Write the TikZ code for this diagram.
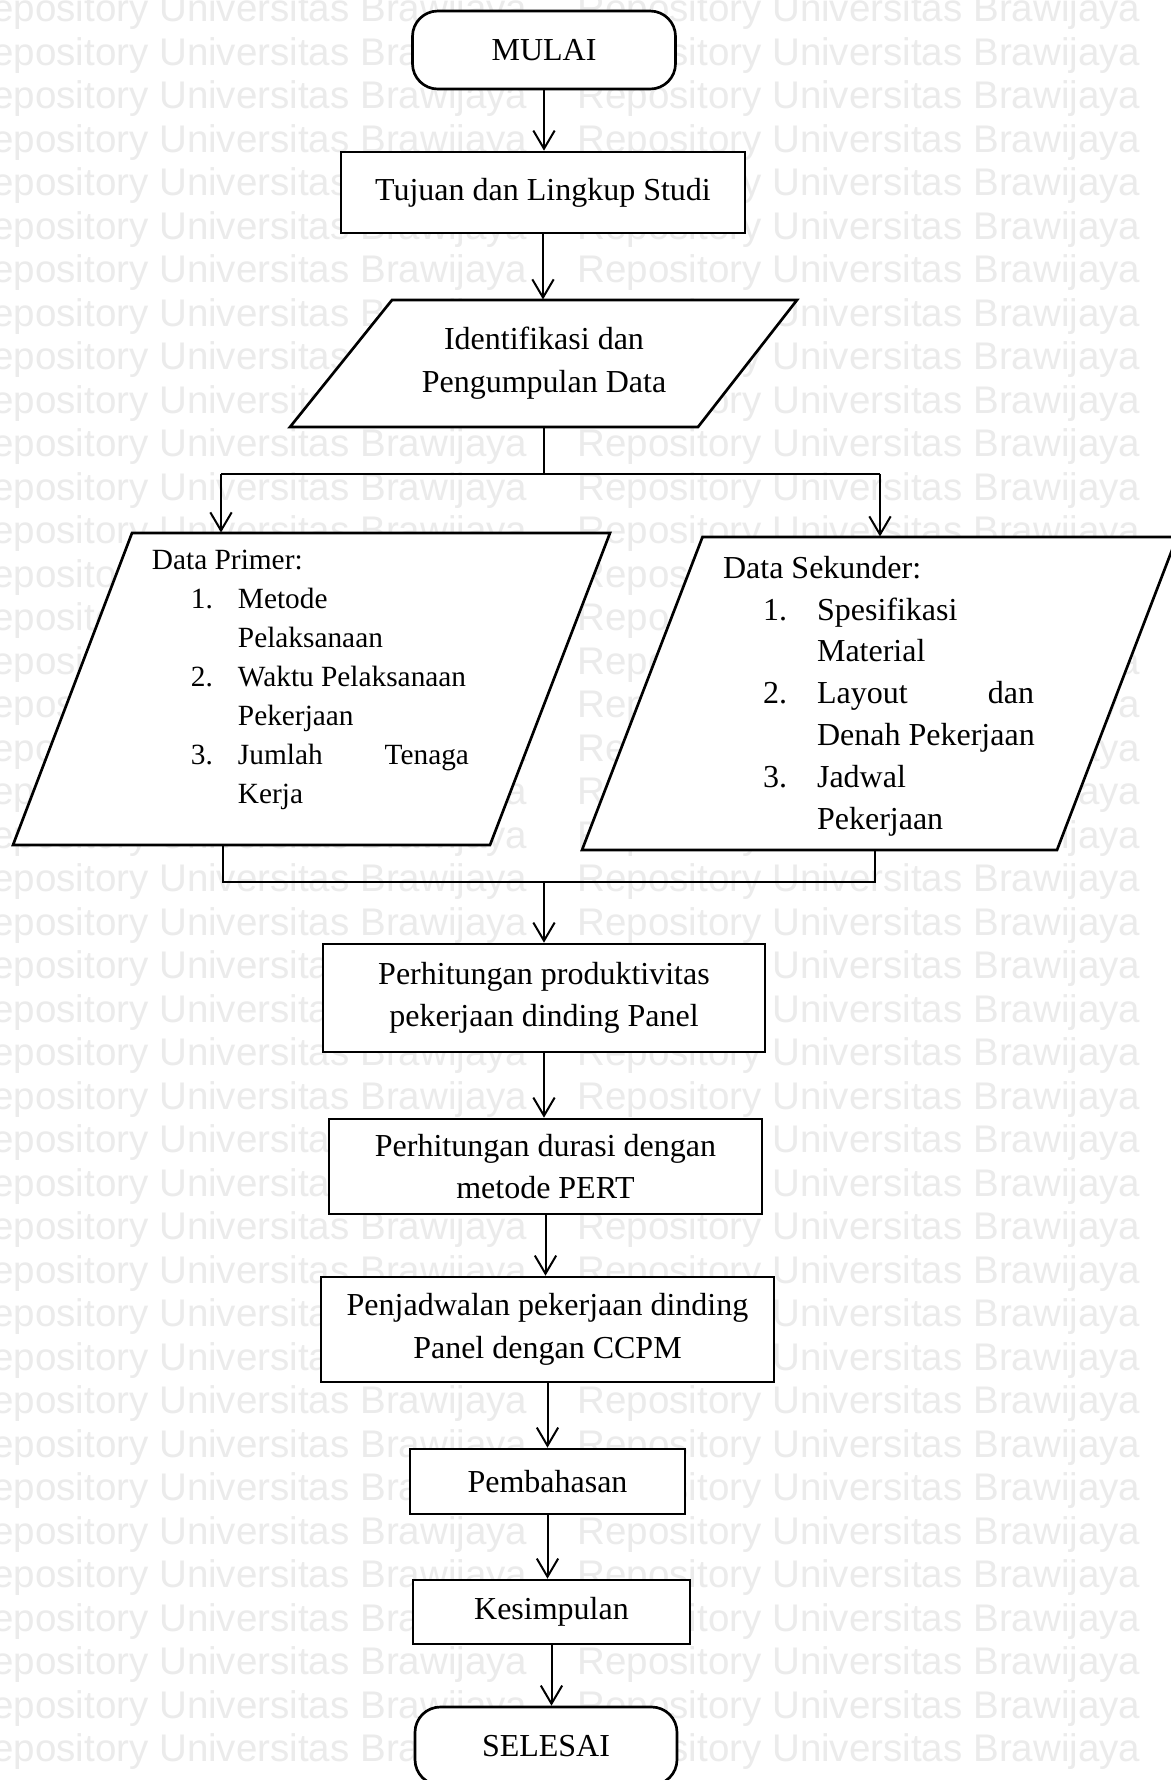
\documentclass[tikz,border=0pt]{standalone}
\usepackage{fontspec}
\setmainfont{Liberation Serif}
\newfontfamily\tandafont{Liberation Sans}
\usepackage{tikz}
\usetikzlibrary{arrows.meta,positioning,calc}

\newlength\piksel
\setlength\piksel{0.375pt}

\tikzset{
  ukuran/.style 2 args={minimum width=#1*0.375pt, minimum height=#2*0.375pt},
  tepi/.style={draw, fill=white, line width=1pt},
  teks/.style={font=\fontsize{12pt}{16pt}\selectfont},
  kotak/.style={tepi, teks, inner sep=0pt, align=center},
  ujung/.style={kotak, rounded corners=9.5pt},
  bidang/.style={inner sep=0pt},
  daftar/.style={inner sep=0pt, align=left},
  garis/.style={line width=0.75pt},
  panah/.style={garis, -{Straight Barb[length=6.8pt,width=8pt]}},
  tanda/.style={inner sep=0pt, anchor=base west, text=gray!16,
    font=\tandafont\fontsize{14.44pt}{14.44pt}\selectfont},
}

\begin{document}
\begin{tikzpicture}[x=0.375pt,y=-0.375pt]
  % latar
  \fill[white] (0,0) rectangle (1171,1780);
  \useasboundingbox (0,0) rectangle (1171,1780);
  % tanda air
  \foreach \b in {0,...,40} {
    \foreach \k/\n in {-36/a,577/b} {
      \node[tanda] (air-\b\n) at (\k,21.5+43.5*\b) {Repository Universitas Brawijaya};
    }
  }

  % mulai
  \node[ujung, ukuran={263}{78}] (mulai) at (544,50) {MULAI};
  \node[kotak, ukuran={404}{81}] (tujuan) at (543,192.5) {Tujuan dan Lingkup Studi};
  % identifikasi
  \draw[tepi] (392,300) -- (797,300) -- (698,427) -- (290,427) -- cycle;
  \node[bidang, teks, align=center, ukuran={405}{127}] (identifikasi) at (544,363.5)
    {Identifikasi dan\\Pengumpulan Data};

  % data primer
  \draw[tepi] (132,533) -- (610,533) -- (490,845) -- (13,845) -- cycle;
  \node[bidang, ukuran={478}{312}] (primer) at (311.5,689) {};
  \node[daftar, font=\fontsize{11pt}{14.6pt}\selectfont,
    below right=6.4pt and 29.8pt of primer.north west] (primer-isi) {Data Primer:\\
    \hspace*{39\piksel}\makebox[47\piksel][l]{1.}Metode\\
    \hspace*{86\piksel}Pelaksanaan\\
    \hspace*{39\piksel}\makebox[47\piksel][l]{2.}Waktu Pelaksanaan\\
    \hspace*{86\piksel}Pekerjaan\\
    \hspace*{39\piksel}\makebox[47\piksel][l]{3.}\makebox[231\piksel][s]{Jumlah Tenaga}\\
    \hspace*{86\piksel}Kerja};

  % data sekunder
  \draw[tepi] (702.5,537) -- (1177,537) -- (1057,850) -- (582,850) -- cycle;
  \node[bidang, ukuran={475}{313}] (sekunder) at (879.5,693.5) {};
  \node[daftar, font=\fontsize{12pt}{15.7pt}\selectfont,
    below right=7.1pt and 30.4pt of sekunder.north west] (sekunder-isi) {Data Sekunder:\\
    \hspace*{40\piksel}\makebox[54\piksel][l]{1.}Spesifikasi\\
    \hspace*{94\piksel}Material\\
    \hspace*{40\piksel}\makebox[54\piksel][l]{2.}\makebox[217\piksel][s]{Layout dan}\\
    \hspace*{94\piksel}Denah Pekerjaan\\
    \hspace*{40\piksel}\makebox[54\piksel][l]{3.}Jadwal\\
    \hspace*{94\piksel}Pekerjaan};

  % proses
  \node[kotak, ukuran={442}{108}] (produktivitas) at (544,998)
    {Perhitungan produktivitas\\pekerjaan dinding Panel};
  \node[kotak, ukuran={433}{95}] (durasi) at (545.5,1166.5)
    {Perhitungan durasi dengan\\metode PERT};
  \node[kotak, ukuran={453}{105}] (penjadwalan) at (547.5,1329.5)
    {Penjadwalan pekerjaan dinding\\Panel dengan CCPM};
  \node[kotak, ukuran={275}{65}] (pembahasan) at (547.5,1481.5) {Pembahasan};
  \node[kotak, ukuran={277}{64}] (kesimpulan) at (551.5,1612) {Kesimpulan};
  \node[ujung, ukuran={262}{78}] (selesai) at (546,1746) {SELESAI};

  % panah
  \foreach \a/\c in {mulai/tujuan, tujuan/identifikasi, produktivitas/durasi,
      durasi/penjadwalan, penjadwalan/pembahasan, pembahasan/kesimpulan,
      kesimpulan/selesai} {
    \draw[panah] (\a.south) -- (\a.south |- \c.north);
  }
  % cabang
  \coordinate (kiri) at (221,474);
  \coordinate (kanan) at (880,474);
  \draw[garis] (identifikasi.south) -- (identifikasi.south |- kiri);
  \draw[garis] (kiri) -- (kanan);
  \draw[panah] (kiri) -- (kiri |- primer.north);
  \draw[panah] (kanan) -- (kanan |- sekunder.north);
  % gabung
  \coordinate (kiri2) at (223,882);
  \coordinate (kanan2) at (875,882);
  \draw[garis] (kiri2 |- primer.south) -- (kiri2) -- (kanan2) -- (kanan2 |- sekunder.south);
  \draw[panah] (produktivitas.north |- kiri2) -- (produktivitas.north);
\end{tikzpicture}
\end{document}
